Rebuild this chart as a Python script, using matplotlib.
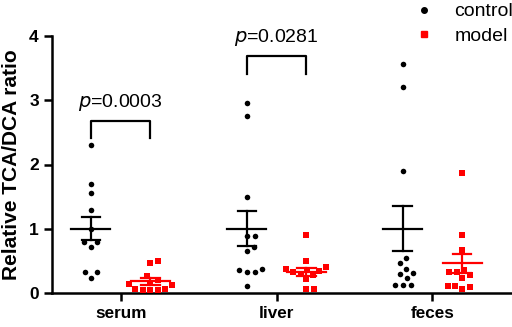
import matplotlib.pyplot as plt
import numpy as np
from matplotlib.lines import Line2D

plt.rcParams['font.family'] = ['Liberation Sans', 'DejaVu Sans']

groups = ['serum', 'liver', 'feces']
control = [
    [2.31, 1.70, 1.55, 1.29, 1.00, 0.80, 0.80, 0.72, 0.33, 0.33, 0.24],
    [2.95, 2.76, 1.49, 0.89, 0.89, 0.72, 0.65, 0.38, 0.36, 0.33, 0.32, 0.11],
    [3.56, 3.20, 1.90, 0.54, 0.46, 0.38, 0.31, 0.30, 0.23, 0.13, 0.12, 0.12],
]
model = [
    [0.50, 0.47, 0.27, 0.20, 0.16, 0.14, 0.12, 0.07, 0.06, 0.05, 0.05, 0.04],
    [0.91, 0.50, 0.40, 0.38, 0.36, 0.34, 0.33, 0.30, 0.28, 0.22, 0.06, 0.06],
    [1.87, 0.90, 0.67, 0.36, 0.33, 0.32, 0.28, 0.24, 0.11, 0.11, 0.10, 0.06],
]
control_mean = [1.0, 1.0, 1.0]
control_sem = [0.18, 0.27, 0.35]
model_mean = [0.18, 0.33, 0.46]
model_sem = [0.05, 0.06, 0.145]
p_labels = ['0.0003', '0.0281']


def swarm(values, center, ax, min_dist=8.0):
    # simple beeswarm in pixel space
    pts = ax.transData.transform([(center, v) for v in values])
    order = np.argsort(values)
    placed = []
    xs = np.zeros(len(values))
    cands = np.concatenate([[0], np.ravel([[s, -s] for s in np.arange(0.5, 60, 0.5)])])
    for i in order:
        y = pts[i, 1]
        for dx in cands:
            ok = all((dx - px) ** 2 + (y - py) ** 2 >= min_dist ** 2 for px, py in placed)
            if ok:
                placed.append((dx, y))
                xs[i] = dx
                break
    px_per_unit = ax.transData.transform((1, 0))[0] - ax.transData.transform((0, 0))[0]
    return center + xs / px_per_unit


fig = plt.figure(figsize=(5.12, 3.27), dpi=100)
ax = fig.add_axes([52 / 512, 1 - 293 / 327, 1 - 52 / 512, (293 - 36) / 327])
ax.set_xlim(-0.44, 2.51)
ax.set_ylim(0, 4)

off = 0.19
x = np.arange(len(groups))
for i in range(len(groups)):
    xc = swarm(control[i], x[i] - off, ax)
    ax.scatter(xc, control[i], s=16, c='black', marker='o', lw=0, clip_on=False, zorder=3)
    xm = swarm(model[i], x[i] + off, ax, min_dist=7.5)
    ax.scatter(xm, model[i], s=15, c='#ff0000', marker='s', lw=0, clip_on=False, zorder=3)

    for xx, m, e, col in [(x[i] - off, control_mean[i], control_sem[i], 'black'),
                          (x[i] + off, model_mean[i], model_sem[i], '#ff0000')]:
        ax.plot([xx - 0.125, xx + 0.125], [m, m], color=col, lw=1.6, zorder=4)
        ax.plot([xx, xx], [m - e, m + e], color=col, lw=1.6, zorder=4)
        ax.plot([xx - 0.06, xx + 0.06], [m + e, m + e], color=col, lw=1.6, zorder=4)
        ax.plot([xx - 0.06, xx + 0.06], [m - e, m - e], color=col, lw=1.6, zorder=4)

# significance brackets
for i, (lo, hi) in enumerate([(2.41, 2.68), (3.41, 3.69)]):
    ax.plot([x[i] - off, x[i] - off, x[i] + off, x[i] + off], [lo, hi, hi, lo],
            color='black', lw=1.6, clip_on=False)
    ax.text(x[i], hi + 0.12, r'$\it{p}$=' + p_labels[i], ha='center', va='bottom',
            fontsize=14, clip_on=False)

ax.spines['top'].set_visible(False)
ax.spines['right'].set_visible(False)
for s in ['left', 'bottom']:
    ax.spines[s].set_linewidth(1.8)
ax.set_xticks(x)
ax.set_xticklabels(groups, fontsize=12.3, fontweight='bold')
ax.set_yticks([0, 1, 2, 3, 4])
ax.set_yticklabels(['0', '1', '2', '3', '4'], fontsize=12.5, fontweight='bold')
ax.tick_params(axis='both', width=1.8, length=6)
ax.tick_params(axis='x', pad=3)
ax.set_ylabel('Relative TCA/DCA ratio', fontsize=15, fontweight='bold', labelpad=6)

handles = [Line2D([], [], marker='o', color='black', ls='none', ms=4),
           Line2D([], [], marker='s', color='#ff0000', ls='none', ms=3.8)]
fig.legend(handles, ['control', 'model'], loc='upper left', bbox_to_anchor=(0.755, 1.045),
           frameon=False, fontsize=14, handletextpad=0.6, labelspacing=0.35)

fig.savefig('out.png', dpi=100)
